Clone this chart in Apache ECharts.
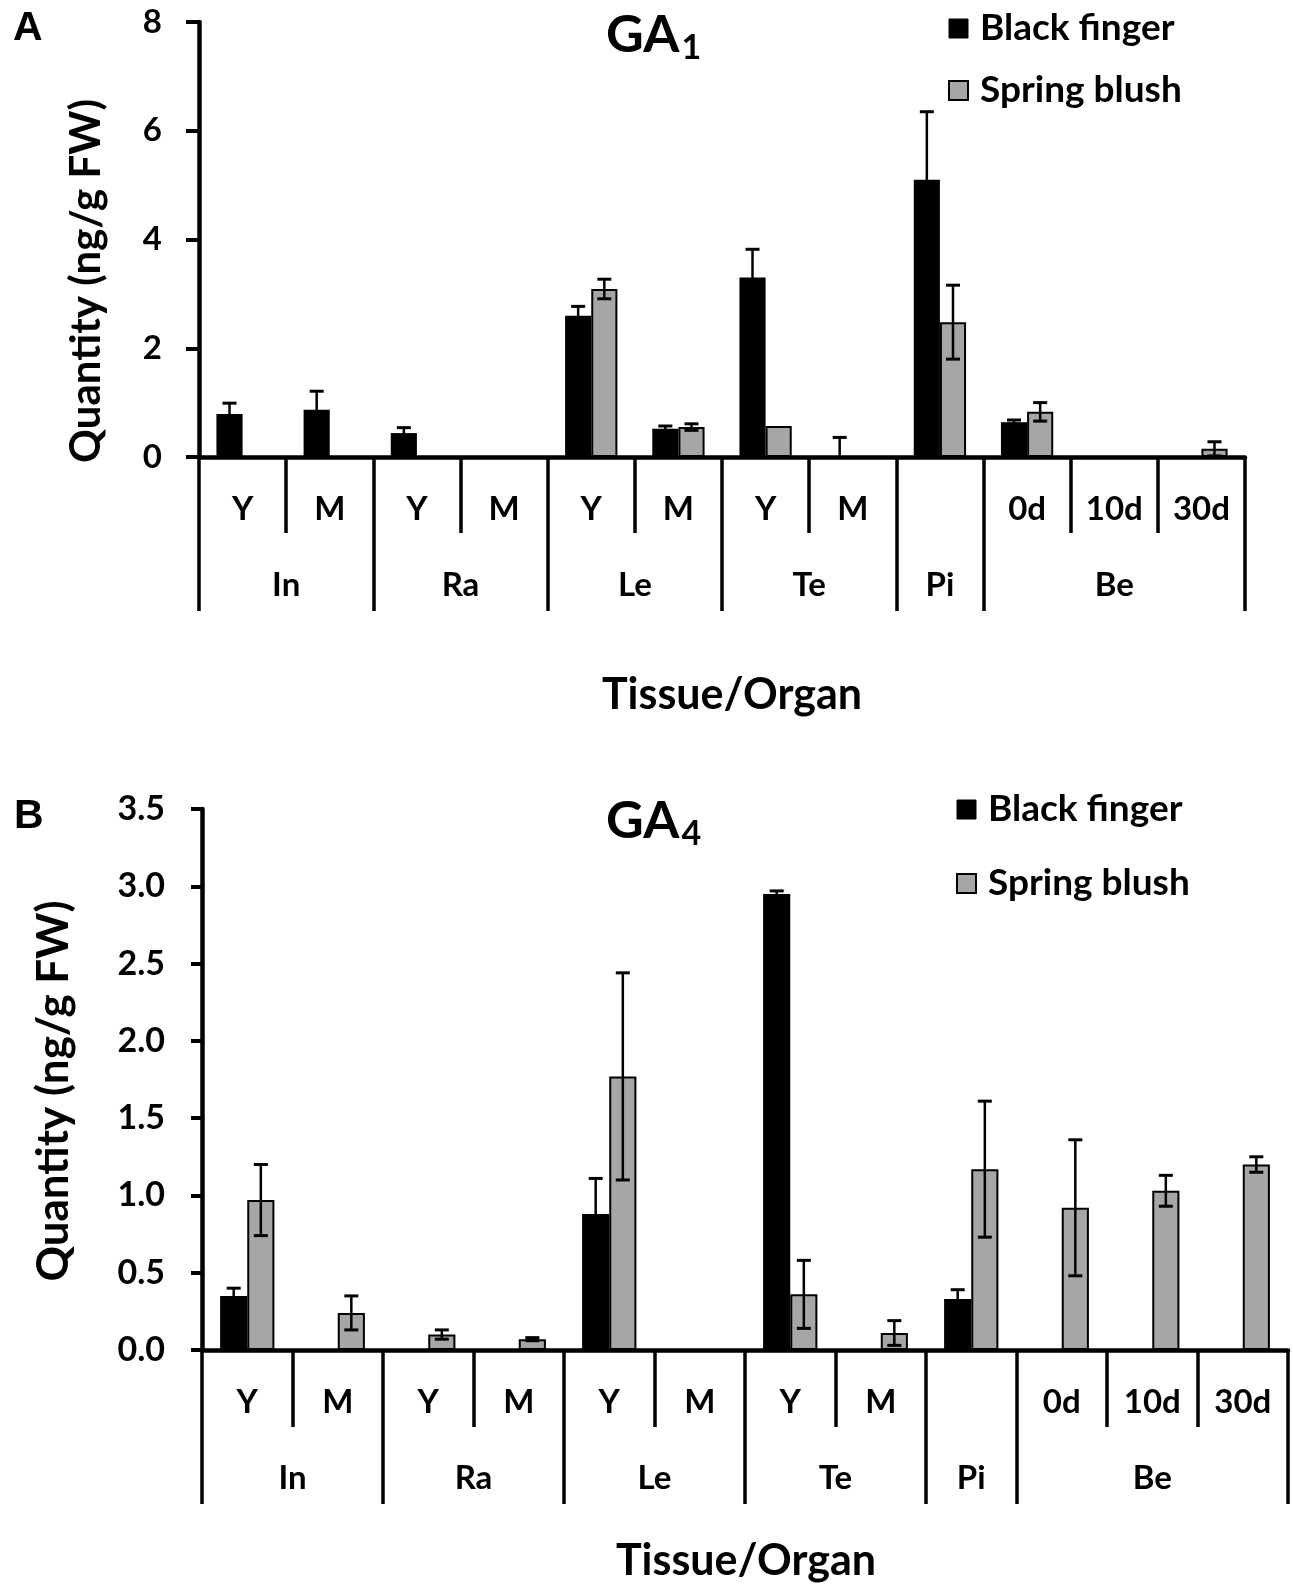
<!DOCTYPE html>
<html>
<head>
<meta charset="utf-8">
<script src="https://cdn.jsdelivr.net/npm/echarts@6/dist/echarts.min.js"></script>
<style>
html,body{margin:0;padding:0;background:#fff;}
#chart{width:1293px;height:1584px;}
</style>
</head>
<body>
<div id="chart"></div>
<script>
// ---------- data ----------
const categories = ['Y','M','Y','M','Y','M','Y','M','','0d','10d','30d'];
const groupNames = ['In','Ra','Le','Te','Pi','Be'];
const groupSpans = [2,2,2,2,1,3];
const seriesNames = ['Black finger','Spring blush'];

const ga1Black     = [0.79, 0.87, 0.44, 0, 2.60, 0.52, 3.30, 0, 5.10, 0.64, 0, 0];
const ga1BlackErr  = [0.20, 0.34, 0.10, 0, 0.17, 0.05, 0.52, 0.36, 1.25, 0.04, 0, 0];
const ga1Spring    = [0, 0, 0, 0, 3.09, 0.55, 0.57, 0, 2.48, 0.83, 0, 0.15];
const ga1SpringErr = [0, 0, 0, 0, 0.18, 0.06, 0, 0, 0.68, 0.17, 0, 0.13];

const ga4Black     = [0.35, 0, 0, 0, 0.88, 0, 2.95, 0, 0.33, 0, 0, 0];
const ga4BlackErr  = [0.05, 0, 0, 0, 0.23, 0, 0.02, 0, 0.06, 0, 0, 0];
const ga4Spring    = [0.97, 0.24, 0.10, 0.07, 1.77, 0, 0.36, 0.11, 1.17, 0.92, 1.03, 1.20];
const ga4SpringErr = [0.23, 0.11, 0.03, 0.01, 0.67, 0, 0.22, 0.08, 0.44, 0.44, 0.10, 0.05];

const yTicksA = [0, 8, 2];    // min, max, interval
const yTicksB = [0, 3.5, 0.5];

// ---------- helpers ----------
const FONT = 'Lato, "Open Sans", sans-serif';
const BLACK = '#000000';
const GRAY = '#A6A6A6';

// group axis: 2 points per category + 1 (boundaryGap false)
const groupAxisData = [];
const groupBoundaries = new Set();
(function(){
  for (let i = 0; i <= categories.length * 2; i++) groupAxisData.push('');
  let start = 0;
  groupNames.forEach((g, i) => {
    groupBoundaries.add(start * 2);
    groupAxisData[start * 2 + groupSpans[i]] = g;
    start += groupSpans[i];
  });
  groupBoundaries.add(start * 2);
})();

function errData(vals, errs) {
  return vals.map((v, i) => [i, v, errs[i]]);
}
function errRender(side) {
  return function (params, api) {
    const x = api.value(0), v = api.value(1), e = api.value(2);
    if (!e) return null;
    const bw = api.size([1, 0])[0];
    const off = side * bw * 0.15;
    const top = api.coord([x, v + e]);
    const lowV = Math.max(0, v - e);
    const bot = api.coord([x, lowV]);
    const cx = top[0] + off;
    const cap = 7;
    const children = [
      {type: 'line', shape: {x1: cx, y1: top[1], x2: cx, y2: bot[1]}, style: {stroke: BLACK, lineWidth: 2.5}},
      {type: 'line', shape: {x1: cx - cap, y1: top[1], x2: cx + cap, y2: top[1]}, style: {stroke: BLACK, lineWidth: 3}}
    ];
    if (v - e > 0.005) {
      children.push({type: 'line', shape: {x1: cx - cap, y1: bot[1], x2: cx + cap, y2: bot[1]}, style: {stroke: BLACK, lineWidth: 3}});
    }
    return {type: 'group', children: children};
  };
}

const grids = [
  {left: 199, top: 22, width: 1046, height: 435},
  {left: 202, top: 809, width: 1086, height: 541}
];

function catAxis(gi, lblMargin, shortLen) {
  return {
    type: 'category', gridIndex: gi, data: categories, boundaryGap: true, position: 'bottom',
    axisLine: {show: true, onZero: false, lineStyle: {color: BLACK, width: 4.5}},
    axisTick: {show: true, interval: 0, length: shortLen, lineStyle: {color: BLACK, width: 3.5}},
    axisLabel: {interval: 0, margin: lblMargin, color: BLACK, fontSize: 33, fontWeight: 'bold', fontFamily: FONT},
    splitLine: {show: false}, z: 5
  };
}
function groupAxis(gi, lblMargin, longLen) {
  return {
    type: 'category', gridIndex: gi, data: groupAxisData, boundaryGap: false, position: 'bottom',
    axisLine: {show: false, onZero: false},
    axisTick: {show: true, length: longLen, interval: (i) => groupBoundaries.has(i), lineStyle: {color: BLACK, width: 3.5}},
    axisLabel: {interval: 0, margin: lblMargin, color: BLACK, fontSize: 33, fontWeight: 'bold', fontFamily: FONT},
    splitLine: {show: false}, z: 5
  };
}
function valAxis(gi, ticks, margin, fs, tickLen, fmt) {
  return {
    type: 'value', gridIndex: gi, min: ticks[0], max: ticks[1], interval: ticks[2],
    axisLine: {show: true, lineStyle: {color: BLACK, width: 4.5}},
    axisTick: {show: true, length: tickLen, lineStyle: {color: BLACK, width: 4}},
    axisLabel: {margin: margin, color: BLACK, fontSize: fs, fontWeight: 'bold', fontFamily: FONT, formatter: fmt},
    splitLine: {show: false}, z: 5
  };
}

function barSeries(name, xi, yi, data, color) {
  return {
    name: name, type: 'bar', xAxisIndex: xi, yAxisIndex: yi, data: data,
    barWidth: '30%', barGap: '0%',
    itemStyle: {color: color, borderColor: BLACK, borderWidth: color === BLACK ? 0 : 2},
    emphasis: {disabled: true}, z: 2
  };
}
function errSeries(xi, yi, vals, errs, side) {
  return {
    type: 'custom', xAxisIndex: xi, yAxisIndex: yi, data: errData(vals, errs),
    encode: {x: 0, y: 1}, renderItem: errRender(side), z: 3, silent: true
  };
}

function legendAt(left, top, gap) {
  return {
    orient: 'vertical', left: left, top: top, itemWidth: 19, itemHeight: 19, itemGap: gap,
    icon: 'rect', selectedMode: false,
    data: [
      {name: seriesNames[0], itemStyle: {color: BLACK, borderColor: BLACK, borderWidth: 1}},
      {name: seriesNames[1], itemStyle: {color: GRAY, borderColor: BLACK, borderWidth: 2}}
    ],
    textStyle: {color: BLACK, fontSize: 37, fontWeight: 'bold', fontFamily: FONT, padding: [0, 0, 0, 7]}
  };
}

function gaTitle(sub, left, top) {
  return {
    text: '{a|GA}{s|' + sub + '}', left: left, top: top,
    textStyle: {rich: {
      a: {fontSize: 52, fontWeight: 'bold', fontFamily: FONT, color: BLACK},
      s: {fontSize: 34, fontFamily: FONT, color: BLACK, verticalAlign: 'bottom', padding: [26, 0, 0, 2]}
    }}
  };
}

const option = {
  backgroundColor: '#fff',
  animation: false,
  grid: grids,
  title: [
    {text: 'A', left: 8, top: 3, textStyle: {fontSize: 41, fontWeight: 'bold', fontFamily: 'Liberation Sans, Arial, sans-serif', color: BLACK}},
    {text: 'B', left: 9, top: 791, textStyle: {fontSize: 41, fontWeight: 'bold', fontFamily: 'Liberation Sans, Arial, sans-serif', color: BLACK}},
    gaTitle('1', 601, 0),
    gaTitle('4', 601, 786)
  ],
  legend: [legendAt(943, 5, 25), legendAt(951, 786, 37)],
  xAxis: [
    catAxis(0, 36, 76), groupAxis(0, 112, 154),
    catAxis(1, 36, 77), groupAxis(1, 112, 154)
  ],
  yAxis: [
    valAxis(0, yTicksA, 37, 33, 13, (v) => String(v)),
    valAxis(1, yTicksB, 37, 34, 11, (v) => v.toFixed(1))
  ],
  series: [
    barSeries(seriesNames[0], 0, 0, ga1Black, BLACK),
    barSeries(seriesNames[1], 0, 0, ga1Spring, GRAY),
    errSeries(0, 0, ga1Black, ga1BlackErr, -1),
    errSeries(0, 0, ga1Spring, ga1SpringErr, 1),
    barSeries(seriesNames[0], 2, 1, ga4Black, BLACK),
    barSeries(seriesNames[1], 2, 1, ga4Spring, GRAY),
    errSeries(2, 1, ga4Black, ga4BlackErr, -1),
    errSeries(2, 1, ga4Spring, ga4SpringErr, 1)
  ],
  graphic: [
    {type: 'text', x: 86, y: 281, rotation: Math.PI / 2,
     style: {text: 'Quantity (ng/g FW)', fill: BLACK, fontSize: 42, fontWeight: 'bold', fontFamily: FONT, align: 'center', verticalAlign: 'middle', textAlign: 'center', textVerticalAlign: 'middle'}},
    {type: 'text', x: 54, y: 1091, rotation: Math.PI / 2,
     style: {text: 'Quantity (ng/g FW)', fill: BLACK, fontSize: 44, fontWeight: 'bold', fontFamily: FONT, align: 'center', verticalAlign: 'middle', textAlign: 'center', textVerticalAlign: 'middle'}},
    {type: 'text', x: 732, y: 695,
     style: {text: 'Tissue/Organ', fill: BLACK, fontSize: 43, fontWeight: 'bold', fontFamily: FONT, align: 'center', verticalAlign: 'middle', textAlign: 'center', textVerticalAlign: 'middle'}},
    {type: 'text', x: 746, y: 1561,
     style: {text: 'Tissue/Organ', fill: BLACK, fontSize: 43, fontWeight: 'bold', fontFamily: FONT, align: 'center', verticalAlign: 'middle', textAlign: 'center', textVerticalAlign: 'middle'}}
  ]
};

const chart = echarts.init(document.getElementById('chart'), null, {renderer: 'canvas'});
chart.setOption(option);
</script>
</body>
</html>
